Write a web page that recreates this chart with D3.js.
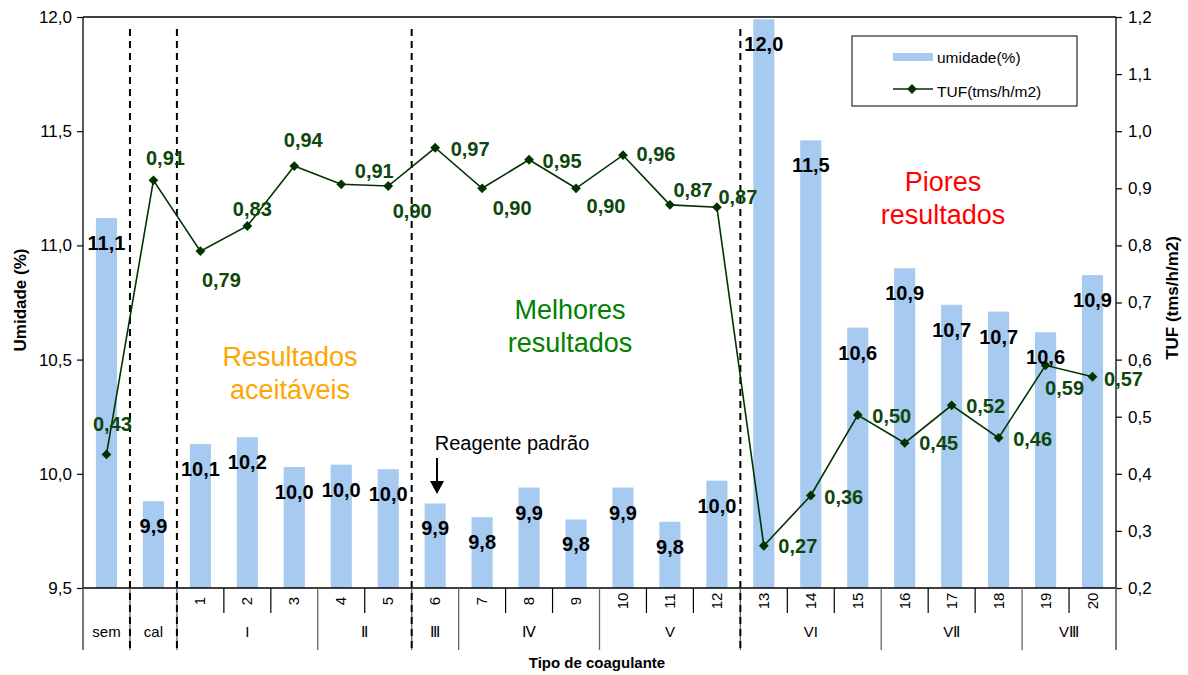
<!DOCTYPE html>
<html><head><meta charset="utf-8">
<script src="https://cdn.jsdelivr.net/npm/d3@7"></script>
<style>body{margin:0;background:#fff} svg{display:block;font-family:"Liberation Sans",Arial,sans-serif}</style>
</head><body><svg id="c" width="1188" height="675"></svg>
<script>
// ---------- data ----------
const categories = ["sem","cal","1","2","3","4","5","6","7","8","9","10","11","12","13","14","15","16","17","18","19","20"];
const groupLabels = ["sem","cal","I","Ⅱ","Ⅲ","Ⅳ","V","VI","VⅡ","VⅢ"];
const groupSizes  = [1,1,3,2,1,3,3,3,3,2];
const umidade = [11.12,9.88,10.13,10.16,10.03,10.04,10.02,9.87,9.81,9.94,9.80,9.94,9.79,9.97,11.99,11.46,10.64,10.90,10.74,10.71,10.62,10.87];
const tuf     = [0.434,0.914,0.790,0.834,0.939,0.907,0.904,0.971,0.900,0.950,0.900,0.958,0.871,0.867,0.274,0.362,0.503,0.454,0.520,0.463,0.590,0.570];
const leftTicks  = [9.5,10.0,10.5,11.0,11.5,12.0];
const rightTicks = [0.2,0.3,0.4,0.5,0.6,0.7,0.8,0.9,1.0,1.1,1.2];
const dashedAfter = ["sem","cal","5","12"];
const seriesNames = ["umidade(%)","TUF(tms/h/m2)"];
// label placement (layout only): offsets of TUF value labels from their points
const tufLabelOffset = [[6,-30],[12,-22],[21,29],[5,-17],[9,-26],[33,-13],[24,25],[35,1],[30,20],[33,1],[30,18],[33,-1],[23,-15],[21,-10],[34,0],[33,2],[34,1],[34,0],[34,1],[34,1],[19,23],[31,2]];

// ---------- setup ----------
const svg = d3.select("#c");
const L = 83, R = 1116, T = 17, B = 588;
const loc = d3.formatLocale({decimal:",", thousands:".", grouping:[3], currency:["",""]});
const f1 = loc.format(".1f"), f2 = loc.format(".2f");

const x = d3.scaleBand().domain(categories).range([L,R]).padding(0);
const yL = d3.scaleLinear().domain([9.5,12]).range([B,T]);
const yR = d3.scaleLinear().domain([0.2,1.2]).range([B,T]);
const bw = x.bandwidth()*0.45;
const cx = c => x(c)+x.bandwidth()/2;

const blue = "#A6CAF0", green = "#003300", greenTxt = "#0d470d";

// bars
svg.append("g").selectAll("rect").data(categories).join("rect")
  .attr("x", c=>cx(c)-bw/2).attr("width", bw)
  .attr("y", (c,i)=>yL(umidade[i])).attr("height",(c,i)=>B-yL(umidade[i]))
  .attr("fill", blue);

// top border
svg.append("line").attr("x1",L).attr("x2",R).attr("y1",T).attr("y2",T).attr("stroke","#000").attr("stroke-width",1.3);

// x-axis region
const gx = svg.append("g");
gx.append("line").attr("x1",L).attr("x2",R).attr("y1",B).attr("y2",B).attr("stroke","#000").attr("stroke-width",1.3);
let idx = 0;
const bounds = [0];
groupSizes.forEach(s=>{idx+=s; bounds.push(idx);});
const step = x.step();
bounds.forEach(b=>{
  const xx = L + b*step;
  gx.append("line").attr("x1",xx).attr("x2",xx).attr("y1",B).attr("y2",650).attr("stroke","#666").attr("stroke-width",1.3);
});
for (let i=1;i<categories.length;i++){
  if (bounds.includes(i)) continue;
  const xx = L + i*step;
  gx.append("line").attr("x1",xx).attr("x2",xx).attr("y1",B).attr("y2",613).attr("stroke","#000").attr("stroke-width",1.2);
}
categories.forEach(c=>{
  if (c==="sem"||c==="cal") return;
  gx.append("text").attr("transform",`translate(${cx(c)+5},601) rotate(-90)`)
    .attr("text-anchor","middle").attr("font-size",15).attr("fill","#000").text(c);
});
idx = 0;
groupSizes.forEach((s,g)=>{
  const xm = L + (idx + s/2)*step;
  gx.append("text").attr("x",xm).attr("y",637).attr("text-anchor","middle").attr("font-size",15).text(groupLabels[g]);
  idx += s;
});
svg.append("text").attr("x",597).attr("y",668).attr("text-anchor","middle").attr("font-size",15).attr("font-weight","bold").text("Tipo de coagulante");

// left axis
const ax = svg.append("g").attr("transform",`translate(${L},0)`)
  .call(d3.axisLeft(yL).tickValues(leftTicks).tickFormat(f1).tickSizeOuter(0).tickSize(6).tickPadding(5));
ax.select(".domain").remove();
ax.selectAll("text").attr("font-size",17).attr("font-family","Liberation Sans, Arial").attr("fill","#000");
ax.selectAll("line").attr("stroke","#000").attr("stroke-width",1.2);
svg.append("line").attr("x1",L).attr("x2",L).attr("y1",T).attr("y2",B).attr("stroke","#000").attr("stroke-width",1.3);
svg.append("line").attr("x1",L).attr("x2",L).attr("y1",B).attr("y2",650).attr("stroke","#666").attr("stroke-width",1.3);

// right axis
const ar = svg.append("g").attr("transform",`translate(${R},0)`)
  .call(d3.axisRight(yR).tickValues(rightTicks).tickFormat(f1).tickSizeOuter(0).tickSize(6).tickPadding(6));
ar.select(".domain").remove();
ar.selectAll("text").attr("font-size",17).attr("font-family","Liberation Sans, Arial").attr("fill","#000");
ar.selectAll("line").attr("stroke","#000").attr("stroke-width",1.2);
svg.append("line").attr("x1",R).attr("x2",R).attr("y1",T).attr("y2",B).attr("stroke","#000").attr("stroke-width",1.3);
svg.append("line").attr("x1",R).attr("x2",R).attr("y1",B).attr("y2",650).attr("stroke","#666").attr("stroke-width",1.3);

// axis titles
svg.append("text").attr("transform","translate(26,300) rotate(-90)").attr("text-anchor","middle")
  .attr("font-size",17).attr("font-weight","bold").text("Umidade (%)");
svg.append("text").attr("transform","translate(1178,298) rotate(-90)").attr("text-anchor","middle")
  .attr("font-size",17).attr("font-weight","bold").text("TUF (tms/h/m2)");

// dashed separators
dashedAfter.forEach(c=>{
  const xx = x(c)+step;
  svg.append("line").attr("x1",xx).attr("x2",xx).attr("y1",29).attr("y2",650)
    .attr("stroke","#000").attr("stroke-width",2).attr("stroke-dasharray","7,5");
});

// TUF line
const line = d3.line().x((d,i)=>cx(categories[i])).y(d=>yR(d));
svg.append("path").datum(tuf).attr("d",line).attr("fill","none").attr("stroke",green).attr("stroke-width",1.6);
const diamond = d3.symbol().type(d3.symbolSquare).size(48);
svg.append("g").selectAll("path").data(tuf).join("path")
  .attr("transform",(d,i)=>`translate(${cx(categories[i])},${yR(d)}) rotate(45)`).attr("d",diamond).attr("fill",green);

// bar value labels
svg.append("g").selectAll("text").data(umidade).join("text")
  .attr("x",(d,i)=>cx(categories[i])).attr("y",d=>yL(d)+25)
  .attr("text-anchor","middle").attr("dominant-baseline","central")
  .attr("font-size",20).attr("font-weight","bold").attr("fill","#000").text(d=>f1(d));

// TUF value labels
svg.append("g").selectAll("text").data(tuf).join("text")
  .attr("x",(d,i)=>cx(categories[i])+tufLabelOffset[i][0]).attr("y",(d,i)=>yR(d)+tufLabelOffset[i][1])
  .attr("text-anchor","middle").attr("dominant-baseline","central")
  .attr("font-size",20).attr("font-weight","bold").attr("fill",greenTxt).text(d=>f2(d));

// annotations
function twoLine(xc,y1,lines,color){
  lines.forEach((t,k)=>svg.append("text").attr("x",xc).attr("y",y1+k*33).attr("text-anchor","middle")
    .attr("dominant-baseline","central").attr("font-size",27).attr("fill",color).text(t));
}
twoLine(290,357,["Resultados","aceitáveis"],"#FFA500");
twoLine(570,310,["Melhores","resultados"],"#008000");
twoLine(943,182,["Piores","resultados"],"#FF0000");

svg.append("text").attr("x",512).attr("y",443).attr("text-anchor","middle").attr("dominant-baseline","central")
  .attr("font-size",20).text("Reagente padrão");
svg.append("line").attr("x1",437).attr("x2",437).attr("y1",458).attr("y2",482).attr("stroke","#000").attr("stroke-width",2);
svg.append("path").attr("d","M430,481 L444,481 L437,494 Z").attr("fill","#000");

// legend
const lg = svg.append("g");
lg.append("rect").attr("x",852).attr("y",36).attr("width",225).attr("height",70).attr("fill","#fff").attr("stroke","#000").attr("stroke-width",1);
lg.append("rect").attr("x",893).attr("y",53).attr("width",40).attr("height",8).attr("fill",blue);
lg.append("line").attr("x1",893).attr("x2",933).attr("y1",89).attr("y2",89).attr("stroke",green).attr("stroke-width",1.6);
lg.append("path").attr("transform","translate(912,89) rotate(45)").attr("d",diamond).attr("fill",green);
lg.append("text").attr("x",937).attr("y",57).attr("dominant-baseline","central").attr("font-size",15.5).text(seriesNames[0]);
lg.append("text").attr("x",937).attr("y",91).attr("dominant-baseline","central").attr("font-size",15.5).text(seriesNames[1]);
</script></body></html>
